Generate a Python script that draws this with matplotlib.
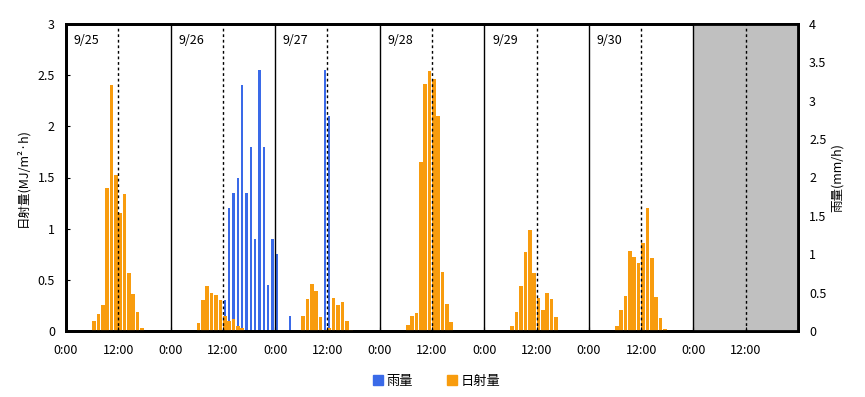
import matplotlib
matplotlib.use("Agg")
import matplotlib.pyplot as plt
from matplotlib.patches import Patch
from matplotlib.ticker import MultipleLocator, FuncFormatter
import matplotlib.transforms as mtransforms
import numpy as np

plt.rcParams["font.family"] = ["Noto Sans CJK JP", "DejaVu Sans"]
plt.rcParams["font.size"] = 9

days = ["9/25", "9/26", "9/27", "9/28", "9/29", "9/30", "10/1"]

# hourly solar radiation (MJ/m2*h), hours 0..23
solar_0925 = [0, 0, 0, 0, 0, 0, 0.10, 0.17, 0.25, 1.40, 2.40, 1.52,
              1.15, 1.34, 0.57, 0.36, 0.19, 0.03, 0, 0, 0, 0, 0, 0]
solar_0926 = [0, 0, 0, 0, 0, 0, 0.08, 0.30, 0.44, 0.37, 0.35, 0.30,
              0.15, 0.10, 0.12, 0.05, 0.03, 0, 0, 0, 0, 0, 0, 0]
solar_0927 = [0, 0, 0, 0, 0, 0, 0.15, 0.31, 0.46, 0.39, 0.14, 0.01,
              0.03, 0.32, 0.25, 0.28, 0.10, 0.01, 0, 0, 0, 0, 0, 0]
solar_0928 = [0, 0, 0, 0, 0, 0, 0.06, 0.15, 0.18, 1.65, 2.41, 2.54,
              2.46, 2.10, 0.58, 0.26, 0.09, 0, 0, 0, 0, 0, 0, 0]
solar_0929 = [0, 0, 0, 0, 0, 0, 0.05, 0.19, 0.44, 0.77, 0.99, 0.57,
              0.32, 0.21, 0.37, 0.31, 0.14, 0, 0, 0, 0, 0, 0, 0]
solar_0930 = [0, 0, 0, 0, 0, 0, 0.05, 0.21, 0.34, 0.78, 0.72, 0.66,
              0.86, 1.20, 0.71, 0.33, 0.13, 0.02, 0, 0, 0, 0, 0, 0]

# hourly rainfall (mm/h), hours 0..23
rain_0925 = [0] * 24
rain_0926 = [0, 0, 0, 0, 0, 0, 0, 0, 0, 0, 0, 0,
             0.4, 1.6, 1.8, 2.0, 3.2, 1.8, 2.4, 1.2, 3.4, 2.4, 0.6, 1.2]
rain_0927 = [1.0, 0, 0, 0.2, 0, 0, 0, 0, 0, 0, 0, 3.4,
             2.8, 0, 0, 0, 0, 0, 0, 0, 0, 0, 0, 0]
rain_0928 = [0] * 24
rain_0929 = [0] * 24
rain_0930 = [0] * 24

solar = np.array(solar_0925 + solar_0926 + solar_0927 + solar_0928 + solar_0929 + solar_0930)
rain = np.array(rain_0925 + rain_0926 + rain_0927 + rain_0928 + rain_0929 + rain_0930)
hours = np.arange(len(solar))

orange = "#F89C0E"
blue = "#3A6AE8"

fig = plt.figure(figsize=(8.65, 3.97), dpi=100)
ax = fig.add_axes([66 / 865, 1 - 331 / 397, (798 - 66) / 865, (331 - 24) / 397])
ax2 = ax.twinx()
ax.set_zorder(ax2.get_zorder() + 1)
ax.patch.set_visible(False)

ax2.bar(hours + 0.15, rain, width=0.55, align="edge", color=blue, linewidth=0)
ax.bar(hours, solar, width=0.85, align="edge", color=orange, linewidth=0)

ax.axvspan(144, 168, color="#C0C0C0", zorder=0, linewidth=0)
for d in range(1, 7):
    ax.axvline(d * 24, color="black", lw=1, zorder=3)
for d in range(7):
    ax.axvline(d * 24 + 12, color="black", lw=1, ls=(0, (2, 2)), zorder=3)

trans = mtransforms.blended_transform_factory(ax.transData, ax.transAxes)
for d, lab in enumerate(days[:6]):
    ax.text(d * 24 + 1.8, 0.945, lab, transform=trans, ha="left", va="center", fontsize=9)

ax.set_xlim(0, 168)
ax.set_ylim(0, 3)
ax2.set_ylim(0, 4)
ax.set_xticks(np.arange(0, 168, 12))
ax.set_xticklabels(["0:00" if t % 24 == 0 else "12:00" for t in range(0, 168, 12)])
ax.yaxis.set_major_locator(MultipleLocator(0.5))
ax2.yaxis.set_major_locator(MultipleLocator(0.5))
fmt = FuncFormatter(lambda v, p: f"{v:g}")
ax.yaxis.set_major_formatter(fmt)
ax2.yaxis.set_major_formatter(fmt)

ax.tick_params(axis="y", direction="in", length=3, pad=8, labelsize=9)
ax2.tick_params(axis="y", direction="in", length=3, pad=8, labelsize=9)
ax.tick_params(axis="x", direction="in", length=3, pad=9, labelsize=9)

for a in (ax, ax2):
    for s in a.spines.values():
        s.set_linewidth(2)

ax.set_ylabel("日射量(MJ/m²·h)", fontsize=9, labelpad=6)
ax2.set_ylabel("雨量(mm/h)", fontsize=9, labelpad=3)

handles = [Patch(color=blue, label="雨量"), Patch(color=orange, label="日射量")]
fig.legend(handles=handles, loc="center", bbox_to_anchor=(0.505, 0.04), ncol=2,
           frameon=False, handlelength=0.7, handleheight=0.7, handletextpad=0.3,
           columnspacing=2.6, fontsize=9.5)

fig.savefig("out.png", dpi=100)
